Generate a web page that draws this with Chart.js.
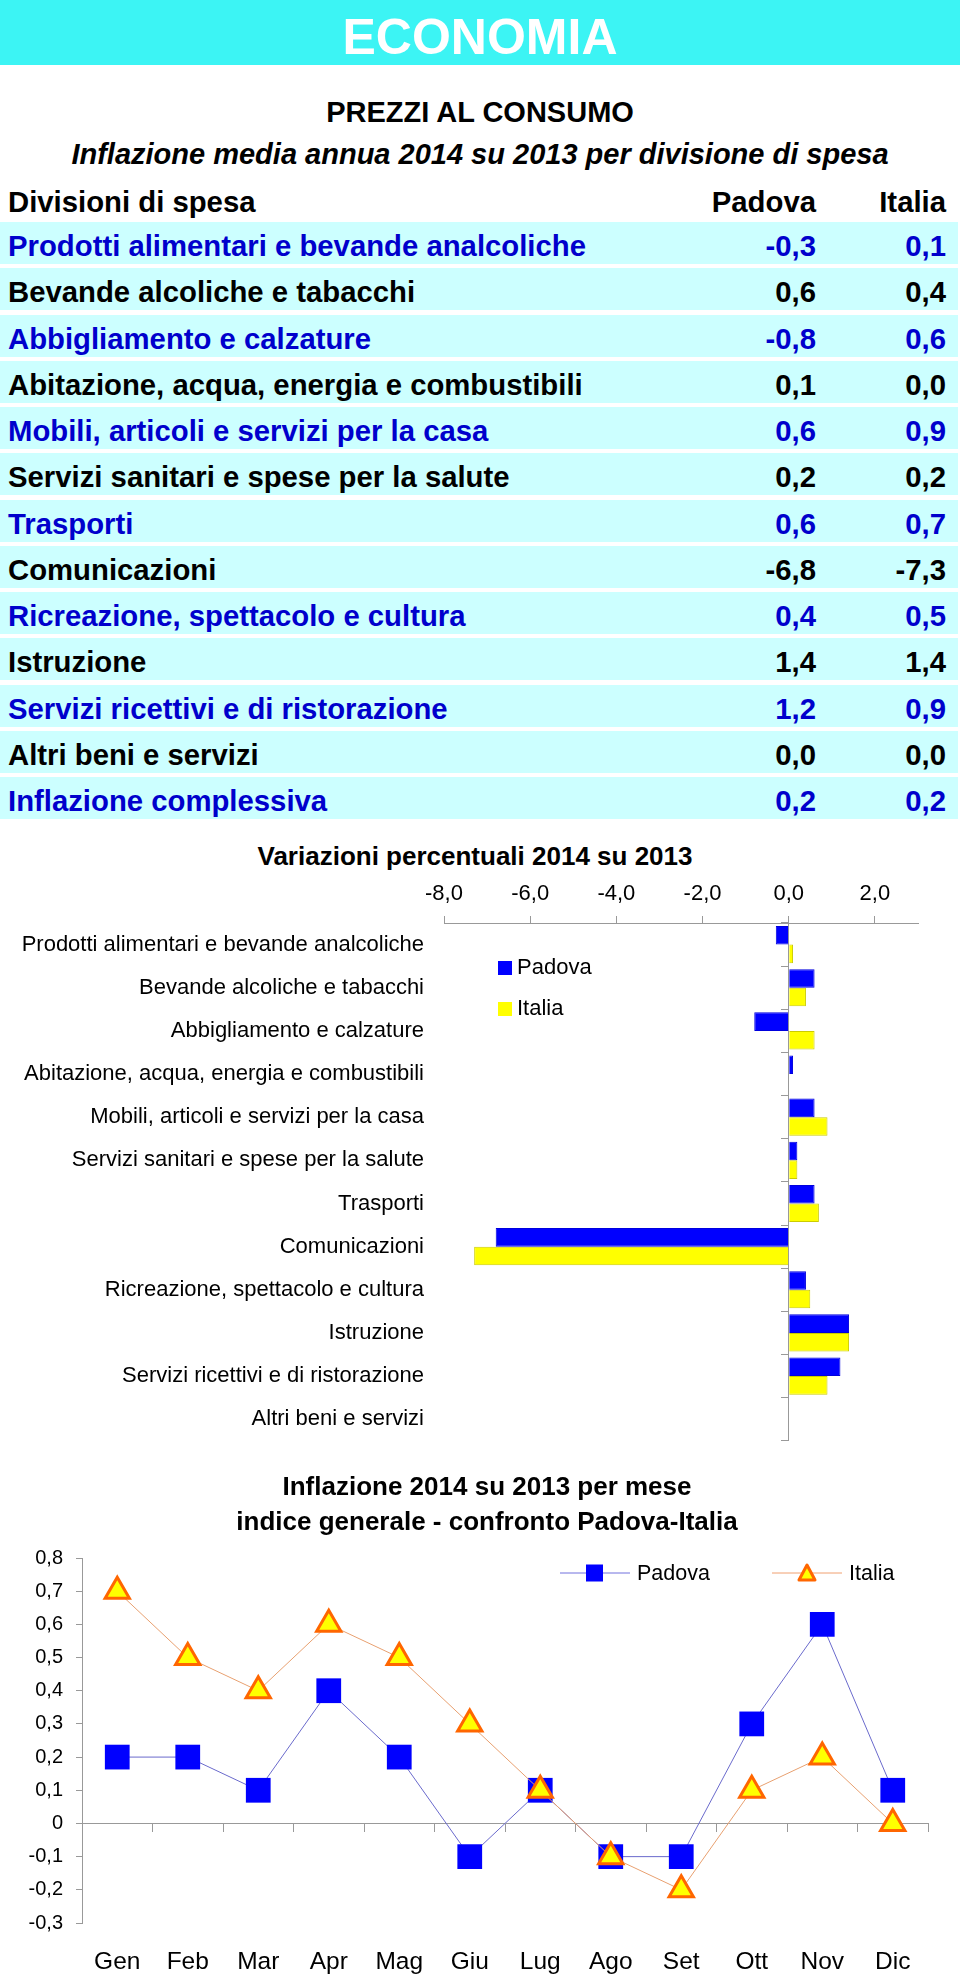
<!DOCTYPE html>
<html>
<head>
<meta charset="utf-8">
<script src="https://cdn.jsdelivr.net/npm/chart.js@4.4.1/dist/chart.umd.min.js"></script>
<style>
body{margin:0;width:960px;height:1975px;position:relative;background:#fff;font-family:Arial,"Liberation Sans",sans-serif;overflow:hidden}
.abs{position:absolute}
#banner{left:0;top:0;width:960px;height:65px;background:#3cf4f4;color:#fff;font-size:50px;font-weight:bold;line-height:74px;text-align:center;overflow:hidden}
.ttl{left:0;width:960px;height:40px;line-height:40px;text-align:center;font-weight:bold;font-size:29px}
.ctit{position:absolute;text-align:center;font-weight:bold;font-size:26px;line-height:35px;white-space:nowrap}
.riga{position:absolute;left:0;width:958px;height:42px;font-weight:bold;font-size:29.3px;line-height:48px}
.riga span{position:absolute;top:0}
.leg{position:absolute;font-size:22px;line-height:22px}
</style>
</head>
<body>
<div id="banner" class="abs">ECONOMIA</div>
<div class="abs ttl" style="top:92px">PREZZI AL CONSUMO</div>
<div class="abs ttl" style="top:134px;font-style:italic">Inflazione media annua 2014 su 2013 per divisione di spesa</div>
<div id="tabella"></div>

<div class="ctit" style="left:175px;width:600px;top:839px">Variazioni percentuali 2014 su 2013</div>
<canvas id="barre" width="960" height="604" style="position:absolute;left:0;top:870px"></canvas>
<div class="leg" style="left:498px;top:956px"><span style="display:inline-block;width:14px;height:14px;background:#0000ff;vertical-align:-1px;margin-right:5px"></span>Padova</div>
<div class="leg" style="left:498px;top:997px"><span style="display:inline-block;width:14px;height:14px;background:#ffff00;vertical-align:-1px;margin-right:5px"></span>Italia</div>

<div class="ctit" style="left:137px;width:700px;top:1469px">Inflazione 2014 su 2013 per mese<br>indice generale - confronto Padova-Italia</div>
<canvas id="linee" width="960" height="442" style="position:absolute;left:0;top:1533px"></canvas>
<div class="leg" style="left:560px;top:1561px;font-size:21.5px;line-height:24px">
  <svg width="70" height="24" style="vertical-align:top"><line x1="0" y1="12" x2="70" y2="12" stroke="#7070dd" stroke-width="1"/><rect x="26" y="3.5" width="17" height="17" fill="#0000ff"/></svg><span style="margin-left:7px">Padova</span>
</div>
<div class="leg" style="left:772px;top:1561px;font-size:21.5px;line-height:24px">
  <svg width="70" height="24" style="vertical-align:top"><line x1="0" y1="12" x2="70" y2="12" stroke="#f0a070" stroke-width="1"/><polygon points="35,4 43,19 27,19" fill="#ffff00" stroke="#ff6600" stroke-width="3" stroke-linejoin="round"/></svg><span style="margin-left:7px">Italia</span>
</div>

<script>
// dati: divisioni di spesa
const divisioni = [
  'Prodotti alimentari e bevande analcoliche',
  'Bevande alcoliche e tabacchi',
  'Abbigliamento e calzature',
  'Abitazione, acqua, energia e combustibili',
  'Mobili, articoli e servizi per la casa',
  'Servizi sanitari e spese per la salute',
  'Trasporti',
  'Comunicazioni',
  'Ricreazione, spettacolo e cultura',
  'Istruzione',
  'Servizi ricettivi e di ristorazione',
  'Altri beni e servizi'
];
const padova = [-0.3, 0.6, -0.8, 0.1, 0.6, 0.2, 0.6, -6.8, 0.4, 1.4, 1.2, 0.0];
const italia = [0.1, 0.4, 0.6, 0.0, 0.9, 0.2, 0.7, -7.3, 0.5, 1.4, 0.9, 0.0];
const complessiva = 'Inflazione complessiva';
const complessivaPadova = 0.2;
const complessivaItalia = 0.2;

// dati: inflazione per mese
const mesi = ['Gen', 'Feb', 'Mar', 'Apr', 'Mag', 'Giu', 'Lug', 'Ago', 'Set', 'Ott', 'Nov', 'Dic'];
const padovaMese = [0.2, 0.2, 0.1, 0.4, 0.2, -0.1, 0.1, -0.1, -0.1, 0.3, 0.6, 0.1];
const italiaMese = [0.7, 0.5, 0.4, 0.6, 0.5, 0.3, 0.1, -0.1, -0.2, 0.1, 0.2, 0.0];

const fmt = v => v.toFixed(1).replace('.', ',');

// tabella
let tab = document.getElementById('tabella');
let html = '<div class="riga" style="top:181px;background:none;line-height:42px">'
  + '<span style="left:8px">Divisioni di spesa</span>'
  + '<span style="right:142px">Padova</span><span style="right:12px">Italia</span></div>';
let nomi = divisioni.concat([complessiva]);
let vp = padova.concat([complessivaPadova]);
let vi = italia.concat([complessivaItalia]);
for (let i = 0; i < nomi.length; i++) {
  let col = (i % 2 == 0) ? '#0000cc' : '#000';
  html += `<div class="riga" style="top:${222 + i * 46.25}px;background:#ccffff;color:${col}">`
    + `<span style="left:8px">${nomi[i]}</span>`
    + `<span style="right:142px">${fmt(vp[i])}</span><span style="right:12px">${fmt(vi[i])}</span></div>`;
}
tab.innerHTML = html;

Chart.defaults.font.family = 'Arial, "Liberation Sans", sans-serif';
Chart.defaults.color = '#000';

new Chart(document.getElementById('barre'), {
  type: 'bar',
  data: {
    labels: divisioni,
    datasets: [
      {label: 'Padova', data: padova, backgroundColor: '#0000ff', borderColor: '#0000dd', borderWidth: 1, categoryPercentage: 0.86, barPercentage: 1},
      {label: 'Italia', data: italia, backgroundColor: '#ffff00', borderColor: '#cccc00', borderWidth: 1, categoryPercentage: 0.86, barPercentage: 1}
    ]
  },
  options: {
    indexAxis: 'y',
    responsive: false,
    animation: false,
    devicePixelRatio: 1,
    layout: {padding: {left: 0, right: 42, top: 0, bottom: 0}},
    plugins: {legend: {display: false}, tooltip: {enabled: false}},
    scales: {
      x: {
        position: 'top', min: -8, max: 3,
        ticks: {stepSize: 2, includeBounds: false, padding: 9, font: {size: 22}, color: '#000', callback: v => fmt(v)},
        grid: {drawOnChartArea: false, drawTicks: true, tickLength: 7, color: '#999'},
        border: {color: '#999'},
        afterFit: s => { s.height = 53; }
      },
      y: {
        position: {x: 0}, offset: true,
        ticks: {display: false},
        grid: {drawOnChartArea: false, tickLength: 7, color: '#999', offset: true},
        border: {color: '#999'}
      },
      y2: {
        type: 'category', position: 'left', offset: true,
        grid: {display: false, drawTicks: false},
        border: {display: false},
        ticks: {padding: 20, font: {size: 22}, color: '#000'},
        afterFit: s => { s.width = 444; }
      }
    }
  }
});

new Chart(document.getElementById('linee'), {
  type: 'line',
  data: {
    labels: mesi,
    datasets: [
      {label: 'Padova', data: padovaMese, order: 1, borderColor: '#6a6acc', borderWidth: 1, tension: 0,
        pointStyle: 'rect', pointRadius: 17.5, pointBackgroundColor: '#0000ff', pointBorderColor: '#0000ff', pointBorderWidth: 0},
      {label: 'Italia', data: italiaMese, order: 0, borderColor: '#e8a070', borderWidth: 1, tension: 0,
        pointStyle: 'triangle', pointRadius: 14, pointBackgroundColor: '#ffff00', pointBorderColor: '#ff6600', pointBorderWidth: 3}
    ]
  },
  options: {
    responsive: false,
    animation: false,
    devicePixelRatio: 1,
    clip: false,
    layout: {padding: {left: 0, right: 32, top: 0, bottom: 0}},
    plugins: {legend: {display: false}, tooltip: {enabled: false}},
    scales: {
      x: {
        offset: true,
        grid: {display: false, drawTicks: false, offset: true},
        border: {display: false},
        ticks: {padding: 24.3, font: {size: 24.5}, color: '#000'},
        afterFit: s => { s.height = 52; }
      },
      x0: {
        type: 'category', position: {y: 0}, offset: true,
        ticks: {display: false},
        grid: {drawOnChartArea: false, tickLength: 8, color: '#999', offset: true},
        border: {color: '#999'}
      },
      y: {
        min: -0.3, max: 0.8,
        ticks: {stepSize: 0.1, padding: 13, font: {size: 20}, color: '#000',
          callback: v => Math.abs(v) < 1e-9 ? '0' : fmt(v)},
        grid: {drawOnChartArea: false, tickLength: 6, color: '#999'},
        border: {color: '#999'},
        afterFit: s => { s.width = 82; }
      }
    }
  }
});
</script>
</body>
</html>
